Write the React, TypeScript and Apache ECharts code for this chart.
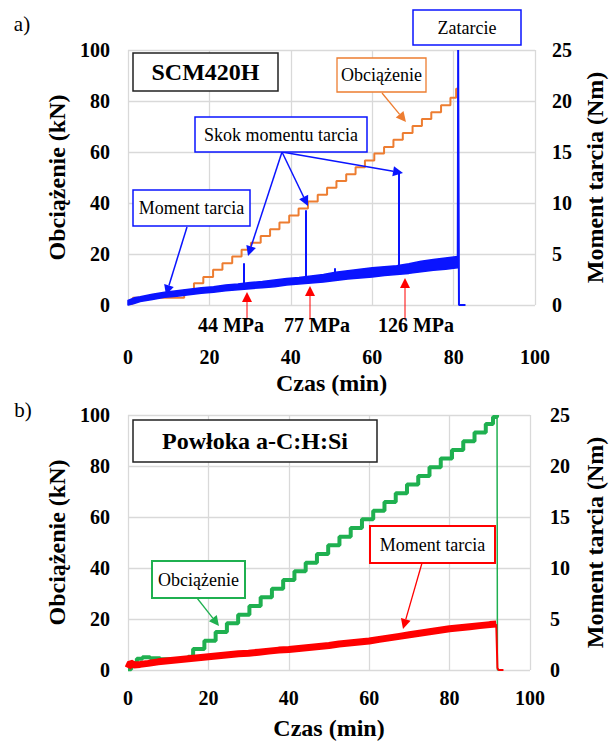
import React, { useEffect, useRef } from "react";
import * as echarts from "echarts";

// ---------- Panel a) SCM420H ----------
// Load (kN), staircase: time at which each level starts
const loadA_T = [0, 1.2, 13.8, 16.2, 18.5, 20.9, 23.2, 25.6, 27.9, 30.2, 32.6, 34.9, 37.2, 39.6, 41.9, 44.2, 46.6, 48.9, 51.2, 53.6, 55.9, 58.2, 60.5, 62.9, 65.2, 67.5, 69.9, 72.2, 74.5, 76.9, 79.2, 80.6, 81.1];
const loadA_V = [0.5, 2.8, 5.8, 8.5, 11.0, 13.8, 16.4, 19.0, 21.7, 24.4, 27.1, 29.7, 32.4, 35.1, 37.8, 40.6, 43.2, 46.0, 48.6, 51.3, 54.0, 56.7, 59.4, 62.0, 64.8, 67.5, 70.2, 72.9, 75.6, 78.3, 81.3, 84.8, 85.0];
// Friction torque (Nm): noisy band, lower and upper edge
const momentA_T = [0, 1.5, 3, 6, 9, 12, 15, 18, 21, 24, 27, 30, 33, 36, 39, 42, 45, 48, 51, 54, 57, 60, 63, 66, 69, 72, 75, 78, 81];
const momentA_Lo = [0.0, 0.15, 0.35, 0.55, 0.75, 0.85, 1.0, 1.15, 1.25, 1.4, 1.5, 1.6, 1.7, 1.8, 1.95, 2.05, 2.15, 2.25, 2.4, 2.55, 2.65, 2.75, 2.9, 3.0, 3.1, 3.25, 3.4, 3.5, 3.65];
const momentA_Hi = [0.45, 0.7, 0.8, 1.05, 1.25, 1.4, 1.55, 1.7, 1.8, 1.95, 2.05, 2.2, 2.3, 2.45, 2.6, 2.7, 2.85, 3.0, 3.2, 3.35, 3.5, 3.65, 3.75, 3.85, 4.05, 4.3, 4.45, 4.6, 4.75];
// Torque jumps
const spikeA_T = [28.5, 43.6, 50.8, 66.4];
const spikeA_Base = [1.8, 2.45, 2.8, 3.45];
const spikeA_Top = [4.1, 9.3, 3.6, 13.0];
// Seizure
const seizureA_T = [81.0, 81.1, 81.3, 82.9];
const seizureA_V = [4.2, 25, 0, 0];

// ---------- Panel b) a-C:H:Si ----------
const loadB_T = [0, 0.8, 2.2, 3.6, 5.5, 8.0, 10.5, 13.0, 15.0, 16.2, 19.0, 21.8, 24.6, 27.4, 30.2, 33.0, 35.8, 38.6, 41.4, 44.2, 47.0, 49.8, 52.6, 55.4, 58.2, 61.0, 63.8, 66.6, 69.4, 72.2, 75.0, 77.8, 80.6, 83.4, 86.2, 89.0, 90.8, 91.8];
const loadB_V = [0.3, 2.5, 4.4, 5.0, 4.6, 4.2, 4.0, 4.5, 5.2, 8.2, 11.5, 14.9, 18.3, 21.7, 25.1, 28.5, 31.9, 35.3, 38.7, 42.1, 45.5, 48.9, 52.3, 55.7, 59.1, 62.5, 65.9, 69.3, 72.7, 76.1, 79.5, 82.9, 86.3, 89.7, 93.1, 96.5, 99.2, 100];
const dropB_T = [91.8, 91.9, 93.2];
const dropB_V = [100, 0, 0];
const momentB_T = [0, 0.6, 1.5, 3, 5, 7.5, 10, 12.5, 15, 17.5, 20, 22.5, 25, 27.5, 30, 32.5, 35, 37.5, 40, 42.5, 45, 47.5, 50, 52.5, 55, 57.5, 60, 62.5, 65, 67.5, 70, 72.5, 75, 77.5, 80, 82.5, 85, 87.5, 90, 91.6];
const momentB_V = [0.2, 0.7, 0.5, 0.55, 0.65, 0.8, 0.9, 1.0, 1.1, 1.2, 1.3, 1.4, 1.5, 1.6, 1.65, 1.75, 1.85, 1.95, 2.0, 2.1, 2.2, 2.3, 2.4, 2.55, 2.65, 2.75, 2.85, 3.0, 3.15, 3.3, 3.45, 3.6, 3.75, 3.9, 4.05, 4.15, 4.25, 4.35, 4.45, 4.5];
const momentDropB_T = [91.6, 91.9, 92.2, 93.4];
const momentDropB_V = [4.5, 0.2, 0, 0];

// Axis ranges [min, max, interval]
const timeAxis = [0, 100, 20];
const loadAxis = [0, 100, 20];
const momentAxis = [0, 25, 5];

const SERIF = "Liberation Serif, Times New Roman, serif";
const BLUE = "#0a14ff";
const ORANGE = "#ed7d31";
const GREEN = "#1fb050";
const RED = "#ff0000";

const zip = (t: number[], v: number[]) => t.map((x, i) => [x, v[i]]);

function txt(x: number, y: number, text: string, size: number, weight: string): any {
  return {
    type: "text", x, y, z: 101,
    style: { text, fontFamily: SERIF, fontSize: size, fontWeight: weight, fill: "#000", align: "center", verticalAlign: "middle" },
  };
}

function box(x: number, y: number, w: number, h: number, color: string, text: string, size: number, weight: string, lw = 1.5): any[] {
  return [
    { type: "rect", shape: { x, y, width: w, height: h }, style: { fill: "#fff", stroke: color, lineWidth: lw }, z: 100 },
    txt(x + w / 2, y + h / 2, text, size, weight),
  ];
}

function arrow(x1: number, y1: number, x2: number, y2: number, color: string, lw = 1.5, head = 10, hw = 5): any[] {
  const dx = x2 - x1, dy = y2 - y1;
  const L = Math.hypot(dx, dy);
  const ux = dx / L, uy = dy / L;
  const bx = x2 - ux * head, by = y2 - uy * head;
  const px = -uy, py = ux;
  return [
    { type: "line", shape: { x1, y1, x2: bx, y2: by }, style: { stroke: color, lineWidth: lw }, z: 100 },
    { type: "polygon", shape: { points: [[x2, y2], [bx + px * hw, by + py * hw], [bx - px * hw, by - py * hw]] }, style: { fill: color }, z: 100 },
  ];
}

const labelStyle = { color: "#000", fontFamily: SERIF, fontWeight: "bold" as const, fontSize: 20 };
const nameStyle = { color: "#000", fontFamily: SERIF, fontWeight: "bold" as const, fontSize: 24 };
const split = { show: true, lineStyle: { color: "#d9d9d9", width: 1.3 } };

function xAx(gridIndex: number, margin: number, nameGap: number) {
  return {
    gridIndex, type: "value", min: timeAxis[0], max: timeAxis[1], interval: timeAxis[2],
    axisLine: { show: false }, axisTick: { show: false }, splitLine: split,
    axisLabel: { ...labelStyle, margin },
    name: "Czas (min)", nameLocation: "middle", nameGap, nameTextStyle: nameStyle,
  };
}
function yLoad(gridIndex: number) {
  return {
    gridIndex, type: "value", position: "left", min: loadAxis[0], max: loadAxis[1], interval: loadAxis[2],
    axisLine: { show: false }, axisTick: { show: false }, splitLine: split,
    axisLabel: { ...labelStyle, margin: 18 },
    name: "Obciążenie (kN)", nameLocation: "middle", nameGap: 58, nameRotate: 90, nameTextStyle: nameStyle,
  };
}
function yMoment(gridIndex: number, margin: number, nameGap: number) {
  return {
    gridIndex, type: "value", position: "right", min: momentAxis[0], max: momentAxis[1], interval: momentAxis[2],
    axisLine: { show: false }, axisTick: { show: false }, splitLine: { show: false },
    axisLabel: { ...labelStyle, margin },
    name: "Moment tarcia (Nm)", nameLocation: "middle", nameGap, nameRotate: 90, nameTextStyle: nameStyle,
  };
}

export default function App() {
  const ref = useRef<HTMLDivElement>(null);
  useEffect(() => {
    if (!ref.current) return;
    const chart = echarts.init(ref.current, undefined, { renderer: "svg" });
    const graphic: any[] = [
      txt(22, 24, "a)", 21, "normal"),
      txt(23, 410, "b)", 21, "normal"),
      // panel a
      ...box(133, 53, 145, 38, "#222", "SCM420H", 24, "bold"),
      ...box(413, 10, 108, 35, BLUE, "Zatarcie", 18, "normal"),
      ...arrow(382, 93, 406, 122, ORANGE, 1.3),
      ...box(337, 58, 89, 34, ORANGE, "Obciążenie", 18, "normal", 1.3),
      ...arrow(282, 152, 248, 256, BLUE),
      ...arrow(282, 152, 308, 206, BLUE),
      ...arrow(282, 152, 403, 173, BLUE),
      ...box(195, 117, 172, 35, BLUE, "Skok momentu tarcia", 18, "normal"),
      ...arrow(187, 227, 166, 295, BLUE),
      ...box(133, 190, 117, 36, BLUE, "Moment tarcia", 18, "normal"),
      ...arrow(247, 320, 247, 292, RED, 1),
      ...arrow(310, 320, 310, 286, RED, 1),
      ...arrow(405, 320, 405, 278, RED, 1),
      txt(231, 325, "44 MPa", 20, "bold"),
      txt(317, 325, "77 MPa", 20, "bold"),
      txt(416, 325, "126 MPa", 20, "bold"),
      // panel b
      ...box(133, 420, 244, 42, "#222", "Powłoka a-C:H:Si", 24, "bold"),
      ...arrow(197, 598, 219, 626, GREEN, 1.3),
      ...box(152, 561, 93, 37, GREEN, "Obciążenie", 18, "normal", 2),
      ...arrow(422, 563, 403, 629, RED, 1.3),
      ...box(370, 526, 125, 37, RED, "Moment tarcia", 18, "normal", 2),
    ];
    chart.setOption({
      animation: false,
      backgroundColor: "#fff",
      textStyle: { fontFamily: SERIF },
      grid: [
        { left: 128, top: 50, width: 417, height: 255 },
        { left: 128, top: 415, width: 404, height: 255 },
      ],
      xAxis: [xAx(0, 42, 66), xAx(1, 18, 46)],
      yAxis: [yLoad(0), yMoment(0, 17, 46), yLoad(1), yMoment(1, 20, 53)],
      series: [
        {
          type: "line", name: "Obciążenie a", xAxisIndex: 0, yAxisIndex: 0, step: "end", showSymbol: false,
          data: zip(loadA_T, loadA_V), lineStyle: { color: ORANGE, width: 2 }, z: 2,
        },
        {
          type: "custom", name: "Moment a", xAxisIndex: 0, yAxisIndex: 1, z: 3,
          data: [[momentA_T[0], momentA_Lo[0]]],
          renderItem: (_params: any, api: any) => {
            const lower = momentA_T.map((t, i) => api.coord([t, momentA_Lo[i]]));
            const upper = momentA_T.map((t, i) => api.coord([t, momentA_Hi[i]])).reverse();
            return {
              type: "polygon",
              shape: { points: lower.concat(upper) },
              style: { fill: BLUE, stroke: BLUE, lineWidth: 1.5, lineJoin: "round" },
            };
          },
        },
        {
          type: "line", name: "Zatarcie", xAxisIndex: 0, yAxisIndex: 1, showSymbol: false,
          data: zip(seizureA_T, seizureA_V), lineStyle: { color: BLUE, width: 2 }, z: 3,
          markLine: {
            silent: true, symbol: ["none", "none"], label: { show: false },
            lineStyle: { color: BLUE, width: 2, type: "solid" },
            data: spikeA_T.map((t, i) => [{ coord: [t, spikeA_Base[i]] }, { coord: [t, spikeA_Top[i]] }]),
          },
        },
        {
          type: "line", name: "Obciążenie b", xAxisIndex: 1, yAxisIndex: 2, step: "end", showSymbol: false,
          data: zip(loadB_T, loadB_V), lineStyle: { color: GREEN, width: 4 }, z: 2,
        },
        {
          type: "line", name: "Obciążenie b drop", xAxisIndex: 1, yAxisIndex: 2, showSymbol: false,
          data: zip(dropB_T, dropB_V), lineStyle: { color: GREEN, width: 1.5 }, z: 2,
        },
        {
          type: "line", name: "Moment b", xAxisIndex: 1, yAxisIndex: 3, showSymbol: false,
          data: zip(momentB_T, momentB_V), lineStyle: { color: RED, width: 7 }, z: 3,
        },
        {
          type: "line", name: "Moment b drop", xAxisIndex: 1, yAxisIndex: 3, showSymbol: false,
          data: zip(momentDropB_T, momentDropB_V), lineStyle: { color: RED, width: 2 }, z: 3,
        },
      ],
      graphic,
    });
    return () => chart.dispose();
  }, []);
  return <div ref={ref} style={{ position: "absolute", left: 0, top: 0, width: 615, height: 741, background: "#fff" }} />;
}
